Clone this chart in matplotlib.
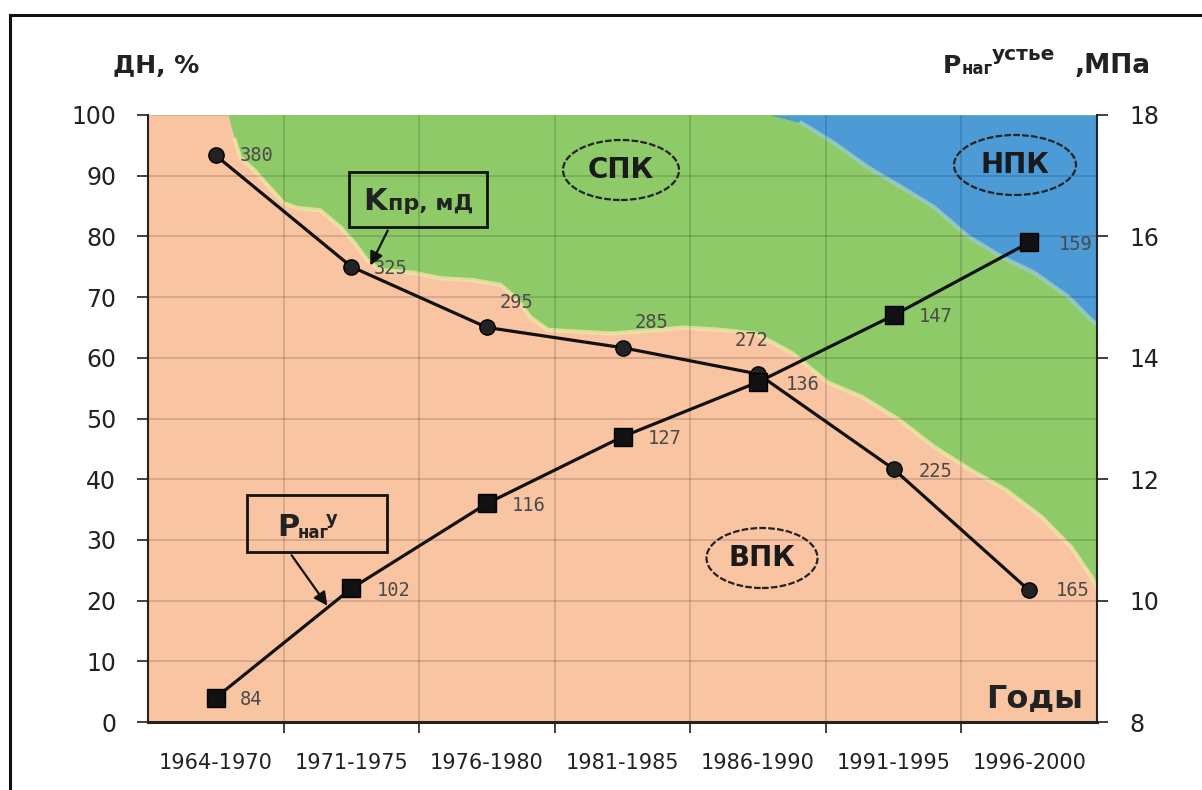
import numpy as np
import matplotlib
matplotlib.use("Agg")
import matplotlib.pyplot as plt
from matplotlib.patches import Ellipse, Rectangle, FancyArrowPatch
from matplotlib.lines import Line2D

# ---------------- data ----------------
periods = ["1964-1970", "1971-1975", "1976-1980", "1981-1985",
           "1986-1990", "1991-1995", "1996-2000"]

# Kпр, мД (permeability) – plotted on hidden axis 100..400
k_pr = [380, 325, 295, 285, 272, 225, 165]
# Pнаг у, МПа (injection well-head pressure)
p_nag = [8.4, 10.2, 11.6, 12.7, 13.6, 14.7, 15.9]

# upper boundary of ВПК area (ДН, %)
x_vpk = [-0.5, 0.09, 0.14, 0.18, 0.28, 0.40, 0.50, 0.60, 0.77, 0.92, 1.02,
         1.12, 1.21, 1.46, 1.66, 1.90, 2.10, 2.23, 2.32, 2.45, 2.92, 3.21,
         3.45, 3.73, 3.98, 4.25, 4.51, 4.77, 5.04, 5.30, 5.57, 5.83, 6.09,
         6.31, 6.46, 6.5]
vpk_top = [100, 100, 95.9, 93.0, 91.0, 88.0, 85.5, 84.7, 84.3, 81.5, 79.0,
           76.0, 74.5, 74.0, 73.1, 72.8, 72.0, 69.5, 66.7, 64.6, 64.0, 64.5,
           65.0, 64.6, 64.0, 60.8, 56.0, 53.5, 49.8, 45.3, 41.5, 38.2, 33.8,
           28.8, 23.9, 22.0]
# lower boundary of НПК area (ДН, %)
x_npk = [4.09, 4.32, 4.56, 4.81, 5.06, 5.30, 5.55, 5.80, 6.04, 6.29, 6.46, 6.5]
npk_bottom = [100, 98.7, 95.4, 91.4, 88.1, 84.8, 80.0, 76.6, 74.0, 70.0, 66.2, 65.5]

left_ticks = list(range(0, 101, 10))
right_ticks = [8, 10, 12, 14, 16, 18]

# ---------------- style ----------------
W, H = 1202, 790
C_VPK = "#F9C4A2"
C_SPK = "#8FCA69"
C_NPK = "#4C9AD6"
FONT = "DejaVu Sans"
plt.rcParams["font.family"] = [FONT]

def fx(x):
    return x / W

def fy(y):
    return 1 - y / H

fig = plt.figure(figsize=(W / 100, H / 100), dpi=100)
fig.patch.set_facecolor("white")

ax = fig.add_axes([fx(148), fy(722), (1097 - 148) / W, (722 - 115) / H])
ax.set_xlim(-0.5, 6.5)
ax.set_ylim(0, 100)
ax.set_facecolor(C_SPK)

ax.fill_between(x_vpk, 0, vpk_top, color=C_VPK, lw=0, zorder=0.5)
ax.plot(x_vpk[2:], vpk_top[2:], color="#F3E4A8", lw=3, alpha=0.8, zorder=0.6)
ax.fill_between(x_npk, npk_bottom, 100, color=C_NPK, lw=0, zorder=0.5)
ax.plot(x_npk[1:], npk_bottom[1:], color="#9CCFC4", lw=3, alpha=0.8, zorder=0.6)

x = np.arange(len(periods))
ax.set_xticks(x)
ax.set_xticklabels(periods, fontsize=15, color="#222222")
ax.set_xticks(np.arange(0.5, len(periods) - 1, 1.0), minor=True)
ax.tick_params(axis="x", which="major", length=0, pad=22)
ax.tick_params(axis="x", which="minor", length=8, width=1.3, direction="out",
               color="#333333")
ax.set_yticks(left_ticks)
ax.set_yticklabels([str(v) for v in left_ticks], fontsize=17, color="#222222")
ax.tick_params(axis="y", length=8, width=1.3, direction="out", pad=15,
               color="#333333")

for v in left_ticks[1:-1]:
    ax.axhline(v, color="#000000", alpha=0.16, lw=1.2, zorder=1)
for v in np.arange(0.5, len(periods) - 1, 1.0):
    ax.axvline(v, color="#000000", alpha=0.16, lw=1.2, zorder=1)

ax.spines["top"].set_visible(False)
ax.spines["right"].set_visible(False)
ax.spines["left"].set_linewidth(1.5)
ax.spines["bottom"].set_linewidth(2.2)
ax.spines["left"].set_color("#222222")
ax.spines["bottom"].set_color("#222222")

# hidden axis for Kпр
axk = ax.twinx()
axk.set_ylim(100, 400)
axk.axis("off")
axk.set_xlim(-0.5, 6.5)
axk.plot(x, k_pr, color="#111111", lw=2.3, marker="o", markersize=11,
         markerfacecolor="#222222", markeredgecolor="#000000", zorder=3)
k_off = [(17, 0), (16, -1.5), (9, 18), (9, 18), (-17, 24), (18, -2), (19, 0)]
for xi, v, off in zip(x, k_pr, k_off):
    axk.annotate(str(v), (xi, v), xytext=off, textcoords="offset points",
                 ha="left", va="center", fontsize=13.5, color="#4a4a4a",
                 family="DejaVu Sans Mono")

# right axis for Pнаг
axr = ax.twinx()
axr.set_ylim(8, 18)
axr.set_xlim(-0.5, 6.5)
axr.set_yticks(right_ticks)
axr.set_yticklabels([str(v) for v in right_ticks], fontsize=17, color="#222222")
axr.tick_params(axis="y", length=8, width=1.3, direction="out", pad=15,
                color="#333333")
for s in ["top", "left", "bottom"]:
    axr.spines[s].set_visible(False)
axr.spines["right"].set_linewidth(1.5)
axr.spines["right"].set_color("#222222")
axr.plot(x, p_nag, color="#111111", lw=2.3, marker="s", markersize=13,
         markerfacecolor="#111111", markeredgecolor="#000000", zorder=3)
p_off = [(17, -1), (18, -1.5), (18, -1.5), (18, -1.5), (20, -1.5), (18, -1), (21, -1.5)]
for xi, v, off in zip(x, p_nag, p_off):
    axr.annotate(f"{v * 10:.0f}", (xi, v), xytext=off, textcoords="offset points",
                 ha="left", va="center", fontsize=13.5, color="#4a4a4a",
                 family="DejaVu Sans Mono")

# ---------------- headers ----------------
fig.text(fx(113), fy(73), "ДН, %", fontsize=18, fontweight="bold",
         va="baseline", ha="left", color="#222222")
fig.text(fx(943), fy(73), "P", fontsize=18, fontweight="bold",
         va="baseline", ha="left", color="#222222")
fig.text(fx(962), fy(74), "наг", fontsize=12, fontweight="bold",
         va="baseline", ha="left", color="#222222")
fig.text(fx(992), fy(60), "устье", fontsize=14.5, fontweight="bold",
         va="baseline", ha="left", color="#222222")
fig.text(fx(1075), fy(73), ",МПа", fontsize=19, fontweight="bold",
         va="baseline", ha="left", color="#222222")

fig.text(fx(1083), fy(707), "Годы", fontsize=23, fontweight="bold",
         va="baseline", ha="right", color="#222222")

# ---------------- callout boxes ----------------
fig.add_artist(Rectangle((fx(349), fy(227)), (487 - 349) / W, (227 - 172) / H,
                         transform=fig.transFigure, fill=False, ec="#111111", lw=2))
fig.text(fx(363), fy(210), "K", fontsize=22, fontweight="bold",
         va="baseline", ha="left", color="#222222")
fig.text(fx(388), fy(210), "пр, мД", fontsize=16, fontweight="bold",
         va="baseline", ha="left", color="#222222")
fig.add_artist(FancyArrowPatch((fx(389), fy(228)), (fx(369), fy(268)),
                               transform=fig.transFigure, arrowstyle="-|>",
                               mutation_scale=20, lw=1.6, color="#111111"))

fig.add_artist(Rectangle((fx(247), fy(552)), (387 - 247) / W, (552 - 495) / H,
                         transform=fig.transFigure, fill=False, ec="#111111", lw=2))
fig.text(fx(277), fy(536), "P", fontsize=22, fontweight="bold",
         va="baseline", ha="left", color="#222222")
fig.text(fx(298), fy(538), "наг", fontsize=12, fontweight="bold",
         va="baseline", ha="left", color="#222222")
fig.text(fx(326), fy(524), "у", fontsize=13, fontweight="bold",
         va="baseline", ha="left", color="#222222")
fig.add_artist(FancyArrowPatch((fx(290), fy(553)), (fx(329), fy(608)),
                               transform=fig.transFigure, arrowstyle="-|>",
                               mutation_scale=20, lw=1.6, color="#111111"))

# ---------------- ellipse labels ----------------
for cx, cy, w, h, txt in [(621, 170, 116, 60, "СПК"),
                          (1015, 165, 122, 60, "НПК"),
                          (762, 558, 111, 60, "ВПК")]:
    fig.add_artist(Ellipse((fx(cx), fy(cy)), w / W, h / H, transform=fig.transFigure,
                           fill=False, ec="#222222", lw=1.6, ls=(0, (3, 1))))
    fig.text(fx(cx), fy(cy), txt, fontsize=20, fontweight="bold",
             ha="center", va="center", color="#1a1a1a")

# ---------------- outer frame ----------------
fig.add_artist(Line2D([fx(10), fx(10)], [fy(15), 0], transform=fig.transFigure,
                      color="#111111", lw=2.2))
fig.add_artist(Line2D([fx(10), 1], [fy(15), fy(15)], transform=fig.transFigure,
                      color="#111111", lw=2.2))

fig.savefig("out.png", dpi=100)
